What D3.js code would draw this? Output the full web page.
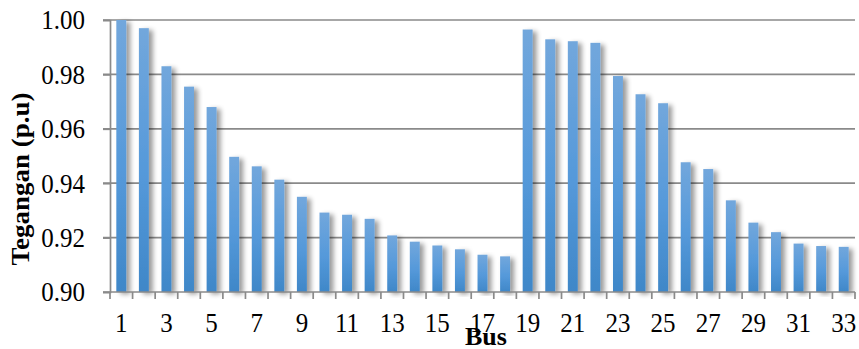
<!DOCTYPE html>
<html>
<head>
<meta charset="utf-8">
<script src="https://cdn.jsdelivr.net/npm/d3@7"></script>
<style>
  html, body { margin: 0; padding: 0; background: #fff; }
  svg { display: block; }
  svg text { font-family: "Liberation Serif", "Times New Roman", Times, serif; fill: #000; }
</style>
</head>
<body>
<svg id="chart" width="859" height="349"></svg>
<script>
// Bus voltage profile (p.u) for the 33-bus feeder
const buses = d3.range(1, 34);
const voltages = [
  1.0000, 0.9970, 0.9830, 0.9755, 0.9680, 0.9497, 0.9462, 0.9413, 0.9350, 0.9292,
  0.9284, 0.9269, 0.9208, 0.9185, 0.9171, 0.9157, 0.9137, 0.9131, 0.9965, 0.9929,
  0.9922, 0.9916, 0.9794, 0.9727, 0.9694, 0.9477, 0.9452, 0.9337, 0.9255, 0.9220,
  0.9178, 0.9169, 0.9166
];
const yTicks = [0.90, 0.92, 0.94, 0.96, 0.98, 1.00];
const xTickLabels = buses.filter(b => b % 2 === 1);

const serif = '"Liberation Serif", "Times New Roman", Times, serif';
const textStretch = 1.12;   // slightly tall glyphs
const svg = d3.select("#chart");
const plot = { left: 110, right: 855, top: 20, bottom: 292 };

const x = d3.scaleBand()
  .domain(buses)
  .range([plot.left, plot.right])
  .paddingInner(0.56)
  .paddingOuter(0.28);

const y = d3.scaleLinear()
  .domain([0.90, 1.00])
  .range([plot.bottom, plot.top]);

const defs = svg.append("defs");
const grad = defs.append("linearGradient")
  .attr("id", "barFill").attr("x1", 0).attr("y1", 0).attr("x2", 0).attr("y2", 1);
grad.append("stop").attr("offset", "0%").attr("stop-color", "#72a7dc");
grad.append("stop").attr("offset", "55%").attr("stop-color", "#5599da");
grad.append("stop").attr("offset", "100%").attr("stop-color", "#3f87c8");

const shadow = defs.append("filter").attr("id", "barShadow")
  .attr("x", "-50%").attr("y", "-10%").attr("width", "250%").attr("height", "120%");
shadow.append("feGaussianBlur").attr("in", "SourceAlpha").attr("stdDeviation", 2.4).attr("result", "blur");
shadow.append("feOffset").attr("in", "blur").attr("dx", 3.5).attr("dy", 1.5).attr("result", "off");
shadow.append("feComponentTransfer").attr("in", "off").attr("result", "soft")
  .append("feFuncA").attr("type", "linear").attr("slope", 0.4);
const merge = shadow.append("feMerge");
merge.append("feMergeNode").attr("in", "soft");
merge.append("feMergeNode").attr("in", "SourceGraphic");

// horizontal gridlines
svg.append("g")
  .selectAll("line")
  .data(yTicks.slice(1))
  .join("line")
  .attr("x1", plot.left - 7).attr("x2", plot.right)
  .attr("y1", d => y(d)).attr("y2", d => y(d))
  .attr("stroke", "#8a8a8a").attr("stroke-width", 1.7);

// bars
svg.append("g")
  .selectAll("rect")
  .data(buses)
  .join("rect")
  .attr("x", d => x(d))
  .attr("width", x.bandwidth())
  .attr("y", (d, i) => y(voltages[i]))
  .attr("height", (d, i) => y(0.90) - y(voltages[i]))
  .attr("fill", "url(#barFill)")
  .attr("filter", "url(#barShadow)");

// y axis
const yAxis = svg.append("g")
  .attr("transform", `translate(${plot.left},0)`)
  .call(d3.axisLeft(y).tickValues(yTicks).tickFormat(d3.format(".2f")).tickSize(7).tickPadding(18))
  .attr("font-family", null).attr("font-size", null);
yAxis.select(".domain").attr("stroke", "#8a8a8a").attr("stroke-width", 1.7);
yAxis.selectAll(".tick line").attr("stroke", "#8a8a8a").attr("stroke-width", 1.7);
yAxis.selectAll(".tick text")
  .style("font-family", serif)
  .style("font-size", "25px").attr("fill", "#000")
  .attr("transform", `scale(1,${textStretch})`);

// x axis: ticks at category boundaries, labels on odd buses
const step = x.step();
const boundaries = d3.range(0, buses.length + 1).map(i => plot.left + i * step);
const xg = svg.append("g");
xg.append("line")
  .attr("x1", plot.left - 7).attr("x2", plot.right)
  .attr("y1", plot.bottom).attr("y2", plot.bottom)
  .attr("stroke", "#8a8a8a").attr("stroke-width", 1.7);
xg.selectAll("line.tk")
  .data(boundaries)
  .join("line").attr("class", "tk")
  .attr("x1", d => d).attr("x2", d => d)
  .attr("y1", plot.bottom).attr("y2", plot.bottom + 7)
  .attr("stroke", "#8a8a8a").attr("stroke-width", 1.7);
xg.selectAll("text")
  .data(xTickLabels)
  .join("text")
  .attr("transform", d => `translate(${x(d) + x.bandwidth() / 2},332) scale(1,${textStretch})`)
  .attr("text-anchor", "middle")
  .style("font-family", serif)
  .style("font-size", "25px")
  .text(d => d);

// axis titles
svg.append("text")
  .attr("x", 486).attr("y", 345)
  .attr("text-anchor", "middle")
  .style("font-family", serif)
  .style("font-size", "26px").style("font-weight", "bold")
  .text("Bus");

svg.append("text")
  .attr("transform", `translate(29,${(plot.top + plot.bottom) / 2 + 23}) rotate(-90) scale(1.08,1)`)
  .attr("text-anchor", "middle")
  .style("font-family", serif)
  .style("font-size", "25px").style("font-weight", "bold")
  .text("Tegangan (p.u)");
</script>
</body>
</html>
